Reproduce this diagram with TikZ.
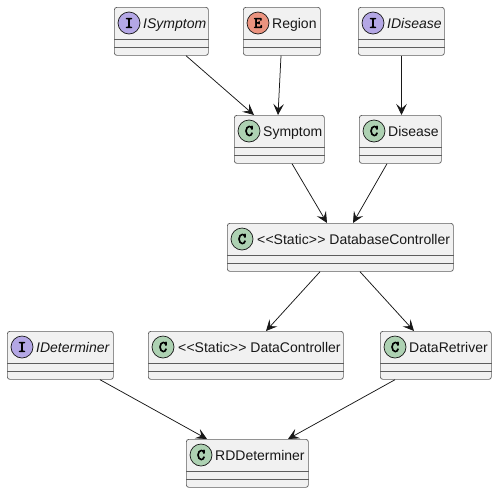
\documentclass[tikz,border=0pt]{standalone}
\usepackage{fontspec}
\setmainfont{Liberation Sans}
\newfontfamily\glyphfont[FakeBold=4]{Latin Modern Mono}
\usetikzlibrary{arrows.meta,calc}
\definecolor{boxfill}{HTML}{F1F1F1}
\definecolor{ink}{HTML}{181818}
\definecolor{cgreen}{HTML}{ADD1B2}
\definecolor{ipurple}{HTML}{B4A7E5}
\definecolor{eorange}{HTML}{EB937F}
\tikzset{
  umlbox/.style={draw=ink!70,line width=0.7pt,fill=boxfill,rounded corners=2.5pt,inner sep=0pt,minimum height=48pt,anchor=north west},
  badge/.style={circle,draw=ink,line width=0.7pt,minimum size=22pt,inner sep=0pt,font=\glyphfont\fontsize{16}{16}\selectfont},
  caption/.style={anchor=base west,inner sep=0pt,text=ink,font=\fontsize{14}{16}\selectfont},
  sep/.style={draw=ink!70,line width=0.7pt},
  link/.style={draw=ink,line width=0.75pt,-{Stealth[length=11pt,width=10.5pt,inset=4.5pt]}}
}
% name, left, top, width, badge letter, badge colour, text
\newcommand{\umlclass}[7]{%
  \node[umlbox,minimum width=#4pt] (#1) at (#2,#3) {};
  \draw[sep] ($(#1.north west)+(0,32)$) -- ($(#1.north east)+(0,32)$);
  \draw[sep] ($(#1.north west)+(0,40)$) -- ($(#1.north east)+(0,40)$);
  \node[badge,fill=#6] (#1badge) at ($(#1.north west)+(15,16)$) {#5};
  \node[caption] (#1text) at ($(#1.north west)+(29,21)$) {#7};
}
\begin{document}
\begin{tikzpicture}[x=1pt,y=-1pt]
\useasboundingbox (0,0) rectangle (497,493);
\fill[white] (0,0) rectangle (497,493);
\umlclass{isymptom}{114}{7}{94}{I}{ipurple}{\itshape ISymptom}
\umlclass{region}{243}{7}{77}{E}{eorange}{Region}
\umlclass{idisease}{358}{7}{86}{I}{ipurple}{\itshape IDisease}
\umlclass{symptom}{234}{115}{90}{C}{cgreen}{Symptom}
\umlclass{disease}{359}{115}{82}{C}{cgreen}{Disease}
\umlclass{database}{227}{223}{226}{C}{cgreen}{\kern.8pt<\kern.4pt<Static>\kern.4pt> DatabaseController}
\umlclass{ideterminer}{7}{331}{106}{I}{ipurple}{\itshape IDeterminer}
\umlclass{datacontroller}{148}{331}{195}{C}{cgreen}{\kern.8pt<\kern.4pt<Static>\kern.4pt> DataController}
\umlclass{dataretriver}{380}{331}{111}{C}{cgreen}{DataRetriver}
\umlclass{rddeterminer}{186}{439}{122}{C}{cgreen}{RDDeterminer}
\draw[link] ($(isymptom.south west)+(72,0)$) -- ($(symptom.north west)+(20,0)$);
\draw[link] ($(region.south west)+(38,0)$) -- ($(symptom.north west)+(44,0)$);
\draw[link] ($(idisease.south west)+(43.5,0)$) -- ($(disease.north west)+(42.5,0)$);
\draw[link] ($(symptom.south west)+(58,0)$) -- ($(database.north west)+(100,0)$);
\draw[link] ($(disease.south west)+(28,0)$) -- ($(database.north west)+(126,0)$);
\draw[link] ($(database.south west)+(93,0)$) -- ($(datacontroller.north west)+(118,0)$);
\draw[link] ($(database.south west)+(133,0)$) -- ($(dataretriver.north west)+(34,0)$);
\draw[link] ($(ideterminer.south west)+(93,0)$) -- ($(rddeterminer.north west)+(21,0)$);
\draw[link] ($(dataretriver.south west)+(15,0)$) -- ($(rddeterminer.north west)+(102,0)$);
\end{tikzpicture}
\end{document}
